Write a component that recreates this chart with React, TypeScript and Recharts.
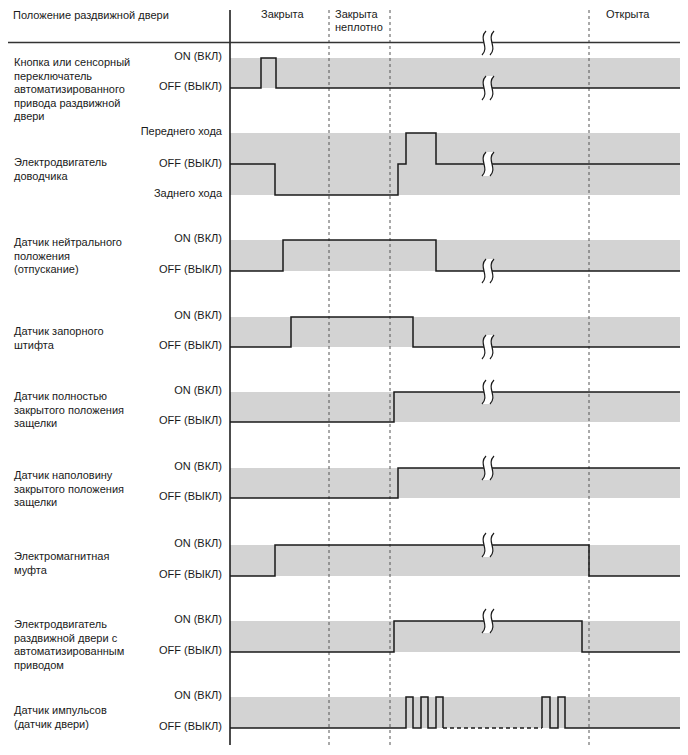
import React from 'react';
import { ComposedChart, Line, XAxis, YAxis, ReferenceArea, ReferenceLine, ReferenceDot } from 'recharts';

// ---- data (time in arbitrary units, level: 1 = ON / forward, 0 = OFF, -1 = reverse) ----
const phaseNames = ['Закрыта', 'Закрыта', 'Открыта'];
const phaseSub = 'неплотно';
const headerTitle = 'Положение раздвижной двери';
const phaseBoundaries = [99, 160, 359];
const breakTime = 258;
const timeEnd = 450;

const signalNames: string[][] = [
  ['Кнопка или сенсорный', 'переключатель', 'автоматизированного', 'привода раздвижной', 'двери'],
  ['Электродвигатель', 'доводчика'],
  ['Датчик нейтрального', 'положения', '(отпускание)'],
  ['Датчик запорного', 'штифта'],
  ['Датчик полностью', 'закрытого положения', 'защелки'],
  ['Датчик наполовину', 'закрытого положения', 'защелки'],
  ['Электромагнитная', 'муфта'],
  ['Электродвигатель', 'раздвижной двери с', 'автоматизированным', 'приводом'],
  ['Датчик импульсов', '(датчик двери)'],
];
const onLabel = 'ON (ВКЛ)';
const offLabel = 'OFF (ВЫКЛ)';
const fwdLabel = 'Переднего хода';
const revLabel = 'Заднего хода';

const buttonSignal = [[0, 0], [31, 1], [46, 0], [450, 0]];
const closerMotor = [[0, 0], [45, -1], [168, 0], [176, 1], [206, 0], [450, 0]];
const neutralSwitch = [[0, 0], [53, 1], [206, 0], [450, 0]];
const lockPinSwitch = [[0, 0], [61, 1], [183, 0], [450, 0]];
const fullLatchSwitch = [[0, 0], [164, 1], [450, 1]];
const halfLatchSwitch = [[0, 0], [168, 1], [450, 1]];
const clutch = [[0, 0], [45, 1], [359, 0], [450, 0]];
const slideMotor = [[0, 0], [164, 1], [352, 0], [450, 0]];
const pulseFirst = [[0, 0], [176, 1], [183, 0], [191, 1], [198, 0], [206, 1], [213, 0]];
const pulseGap = [[213, 0], [312, 0]];
const pulseLast = [[312, 0], [312, 1], [320, 0], [328, 1], [335, 0], [450, 0]];

// ---- layout ----
const W = 688;
const H = 755;
const FONT = 'Liberation Sans, Arial, Helvetica, sans-serif';
const TXT = '#1a1a1a';
const BAND = '#d3d3d3';
const LINE = '#1a1a1a';

type Row = { on: number; off: number; rev?: number; first: number; brk: number };
const rows: Row[] = [
  { on: 58, off: 88, first: 62, brk: 88 },
  { on: 133, off: 164, rev: 195, first: 162, brk: 164 },
  { on: 240, off: 271, first: 242, brk: 271 },
  { on: 317, off: 347, first: 331, brk: 347 },
  { on: 392, off: 422, first: 396, brk: 392 },
  { on: 468, off: 498, first: 475, brk: 468 },
  { on: 545, off: 576, first: 556, brk: 545 },
  { on: 621, off: 652, first: 624, brk: 621 },
  { on: 697, off: 728, first: 710, brk: -1 },
];

const build = (sig: number[][], r: Row) =>
  sig.map(([t, lv]) => ({ t, y: r.off - lv * (r.off - r.on) }));

const X0 = -222; // left edge of drawing in time units
const LEFT_T = -216;
const RIGHT_T = -8;

const textShape = (text: string, anchor: string) => (p: any) => (
  <text x={p.cx} y={p.cy} textAnchor={anchor} fontSize={11} fontFamily={FONT} fill={TXT}>
    {text}
  </text>
);

const squiggle = (p: any) => {
  const cx = p.cx;
  const cy = p.cy;
  const h = 12;
  const curve = (dx: number) =>
    `M ${cx + dx + 2} ${cy - h} C ${cx + dx - 6} ${cy - 4} ${cx + dx + 6} ${cy + 4} ${cx + dx - 2} ${cy + h}`;
  const fillPath =
    `M ${cx - 2} ${cy - h} C ${cx - 10} ${cy - 4} ${cx + 2} ${cy + 4} ${cx - 6} ${cy + h} ` +
    `L ${cx + 2} ${cy + h} C ${cx + 10} ${cy + 4} ${cx - 2} ${cy - 4} ${cx + 6} ${cy - h} Z`;
  return (
    <g>
      <path d={fillPath} fill="#ffffff" stroke="none" />
      <path d={curve(-4)} fill="none" stroke={LINE} strokeWidth={1.2} />
      <path d={curve(4)} fill="none" stroke={LINE} strokeWidth={1.2} />
    </g>
  );
};

export default function App() {
  const texts: { t: number; y: number; s: string; a: string }[] = [];
  texts.push({ t: LEFT_T - 1, y: 19, s: headerTitle, a: 'start' });
  texts.push({ t: 31, y: 18, s: phaseNames[0], a: 'start' });
  texts.push({ t: 105, y: 18, s: phaseNames[1], a: 'start' });
  texts.push({ t: 105, y: 31, s: phaseSub, a: 'start' });
  texts.push({ t: 376, y: 18, s: phaseNames[2], a: 'start' });
  rows.forEach((r, i) => {
    signalNames[i].forEach((ln, k) => {
      texts.push({ t: LEFT_T, y: r.first + 4 + k * 13.5, s: ln, a: 'start' });
    });
    if (r.rev !== undefined) {
      texts.push({ t: RIGHT_T, y: r.on + 2, s: fwdLabel, a: 'end' });
      texts.push({ t: RIGHT_T, y: r.off + 3, s: offLabel, a: 'end' });
      texts.push({ t: RIGHT_T, y: r.rev + 2, s: revLabel, a: 'end' });
    } else {
      texts.push({ t: RIGHT_T, y: r.on + 2, s: onLabel, a: 'end' });
      texts.push({ t: RIGHT_T, y: r.off + 2, s: offLabel, a: 'end' });
    }
  });

  const series = [
    build(buttonSignal, rows[0]),
    build(closerMotor, rows[1]),
    build(neutralSwitch, rows[2]),
    build(lockPinSwitch, rows[3]),
    build(fullLatchSwitch, rows[4]),
    build(halfLatchSwitch, rows[5]),
    build(clutch, rows[6]),
    build(slideMotor, rows[7]),
    build(pulseFirst, rows[8]),
    build(pulseLast, rows[8]),
  ];
  const gapData = build(pulseGap, rows[8]);

  const breaks = [43, ...rows.filter((r) => r.brk > 0).map((r) => r.brk)];

  return (
    <div style={{ position: 'absolute', left: 0, top: 0, background: '#fff' }}>
      <ComposedChart width={W} height={H} margin={{ top: 10, right: 8, bottom: 10, left: 8 }}>
        <XAxis type="number" dataKey="t" domain={[X0, timeEnd]} hide allowDataOverflow />
        <YAxis type="number" dataKey="y" domain={[10, 745]} reversed hide allowDataOverflow />
        {rows.map((r, i) => (
          <ReferenceArea
            key={'band' + i}
            x1={0}
            x2={timeEnd}
            y1={r.on}
            y2={r.rev !== undefined ? r.rev : r.off}
            fill={BAND}
            fillOpacity={1}
            stroke="none"
          />
        ))}
        {phaseBoundaries.map((t) => (
          <ReferenceLine key={'ph' + t} x={t} stroke="#555" strokeWidth={1} strokeDasharray="3 3" />
        ))}
        <ReferenceLine x={0} stroke="#111" strokeWidth={1.5} />
        <ReferenceLine y={42.5} stroke="#333" strokeWidth={1.5} />
        {series.map((d, i) => (
          <Line
            key={'s' + i}
            data={d}
            dataKey="y"
            type="stepAfter"
            stroke={LINE}
            strokeWidth={1.5}
            dot={false}
            activeDot={false}
            isAnimationActive={false}
          />
        ))}
        <Line
          data={gapData}
          dataKey="y"
          type="linear"
          stroke={LINE}
          strokeWidth={1.5}
          strokeDasharray="4 3"
          dot={false}
          activeDot={false}
          isAnimationActive={false}
        />
        {breaks.map((y, i) => (
          <ReferenceDot key={'br' + i} x={breakTime} y={y} r={0} ifOverflow="visible" shape={squiggle} />
        ))}
        {texts.map((tx, i) => (
          <ReferenceDot
            key={'tx' + i}
            x={tx.t}
            y={tx.y}
            r={0}
            ifOverflow="visible"
            shape={textShape(tx.s, tx.a)}
          />
        ))}
      </ComposedChart>
    </div>
  );
}
